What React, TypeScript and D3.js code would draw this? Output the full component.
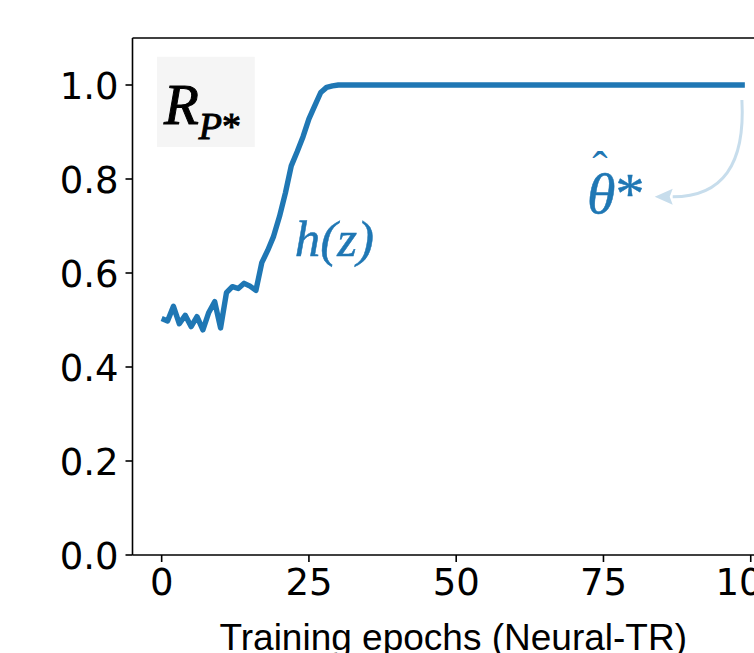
import * as d3 from "d3";

// values, one per epoch (0..99)
const epochs = d3.range(100);
const rValues = [
  0.503, 0.498, 0.529, 0.492, 0.51, 0.486, 0.507, 0.479, 0.516, 0.539,
  0.483, 0.558, 0.571, 0.567, 0.578, 0.572, 0.563, 0.622, 0.648, 0.678,
  0.72, 0.77, 0.828, 0.858, 0.89, 0.928, 0.956, 0.984, 0.995, 0.998,
  1, 1, 1, 1, 1, 1, 1, 1, 1, 1,
  1, 1, 1, 1, 1, 1, 1, 1, 1, 1,
  1, 1, 1, 1, 1, 1, 1, 1, 1, 1,
  1, 1, 1, 1, 1, 1, 1, 1, 1, 1,
  1, 1, 1, 1, 1, 1, 1, 1, 1, 1,
  1, 1, 1, 1, 1, 1, 1, 1, 1, 1,
  1, 1, 1, 1, 1, 1, 1, 1, 1, 1,
];
const xTicks = [0, 25, 50, 75, 100];
const yTicks = [0, 0.2, 0.4, 0.6, 0.8, 1.0];
const xLabel = "Training epochs (Neural-TR)";

const W = 754;
const H = 653;
const BLUE = "#1f77b4";
const PALE = "#c7ddec";
const TICK_FONT = "'DejaVu Sans', sans-serif";
const LABEL_FONT = "'Liberation Sans', Arial, sans-serif";
const MATH_FONT = "'Liberation Serif', 'Times New Roman', serif";

export default function App() {
  const x = d3.scaleLinear().domain([-4.95, 103.95]).range([132.5, 774]);
  const y = d3.scaleLinear().domain([0, 1.1]).range([555, 38]);

  const line = d3
    .line<number>()
    .x((_, i) => x(epochs[i]))
    .y((d) => y(d));

  // annotation arrow from the end of the curve to the theta label (data coords)
  const a0 = [x(98.5), y(0.968)];
  const ac = [x(99.4), y(0.762)];
  const tip = [x(83.7), y(0.762)];
  const headLen = 18;
  const headHalf = 8;
  const aEnd = [tip[0] + headLen, tip[1]];

  const left = x.range()[0];
  const bottom = y.range()[0];
  const top = y.range()[1];

  return (
    <div style={{ position: "fixed", left: 0, top: 0 }}>
      <svg width={W} height={H} style={{ display: "block", background: "#fff" }}>
        {/* label box */}
        <rect
          x={x(-0.8)}
          y={y(1.06)}
          width={x(15.8) - x(-0.8)}
          height={y(0.868) - y(1.06)}
          fill="#f5f5f5"
        />
        <text
          x={x(0.4)}
          y={y(0.918)}
          fontFamily={MATH_FONT}
          fontStyle="italic"
          fill="#000"
          stroke="#000"
          strokeWidth={1}
        >
          <tspan fontSize={57}>R</tspan>
          <tspan fontSize={38} dy={15}>P</tspan>
          <tspan fontSize={38} fontStyle="normal">*</tspan>
        </text>

        {/* main curve */}
        <path
          d={line(rValues) ?? ""}
          fill="none"
          stroke={BLUE}
          strokeWidth={5.4}
          strokeLinejoin="round"
        />

        <text
          x={x(22.6)}
          y={y(0.636)}
          fontFamily={MATH_FONT}
          fontStyle="italic"
          fontSize={51}
          fill={BLUE}
          stroke={BLUE}
          strokeWidth={0.5}
        >
          h(z)
        </text>

        {/* theta hat label */}
        <text
          x={x(72.2)}
          y={y(0.728)}
          fontFamily={MATH_FONT}
          fontSize={58}
          fill={BLUE}
          stroke={BLUE}
          strokeWidth={0.5}
        >
          <tspan fontStyle="italic">θ</tspan>
          <tspan>*</tspan>
        </text>
        <text
          x={x(74.4)}
          y={y(0.79)}
          fontFamily={MATH_FONT}
          fontSize={46}
          textAnchor="middle"
          fill={BLUE}
        >
          ˆ
        </text>

        <path
          d={`M${a0[0]},${a0[1]} Q${ac[0]},${ac[1]} ${aEnd[0]},${aEnd[1]}`}
          fill="none"
          stroke={PALE}
          strokeWidth={3}
        />
        <path
          d={`M${tip[0]},${tip[1]} L${aEnd[0]},${aEnd[1] - headHalf} L${aEnd[0] - 3},${aEnd[1]} L${aEnd[0]},${aEnd[1] + headHalf} Z`}
          fill={PALE}
        />

        {/* spines */}
        <line x1={left} x2={W} y1={top} y2={top} stroke="#000" strokeWidth={1.6} />
        <line x1={left} x2={left} y1={top} y2={bottom} stroke="#000" strokeWidth={1.6} />
        <line x1={left} x2={W} y1={bottom} y2={bottom} stroke="#000" strokeWidth={1.6} />

        {/* y ticks */}
        {yTicks.map((t) => (
          <g key={`y${t}`}>
            <line x1={left - 7} x2={left} y1={y(t)} y2={y(t)} stroke="#000" strokeWidth={1.6} />
            <text
              x={left - 14}
              y={y(t)}
              dy="0.37em"
              textAnchor="end"
              fontFamily={TICK_FONT}
              fontSize={37}
              fill="#000"
            >
              {t.toFixed(1)}
            </text>
          </g>
        ))}

        {/* x ticks */}
        {xTicks.map((t) => (
          <g key={`x${t}`}>
            <line x1={x(t)} x2={x(t)} y1={bottom} y2={bottom + 7} stroke="#000" strokeWidth={1.6} />
            <text
              x={x(t)}
              y={bottom + 40}
              textAnchor="middle"
              fontFamily={TICK_FONT}
              fontSize={37}
              fill="#000"
            >
              {t}
            </text>
          </g>
        ))}

        <text
          x={(x.range()[0] + x.range()[1]) / 2}
          y={650}
          textAnchor="middle"
          fontFamily={LABEL_FONT}
          fontSize={37}
          fill="#000"
        >
          {xLabel}
        </text>
      </svg>
    </div>
  );
}
